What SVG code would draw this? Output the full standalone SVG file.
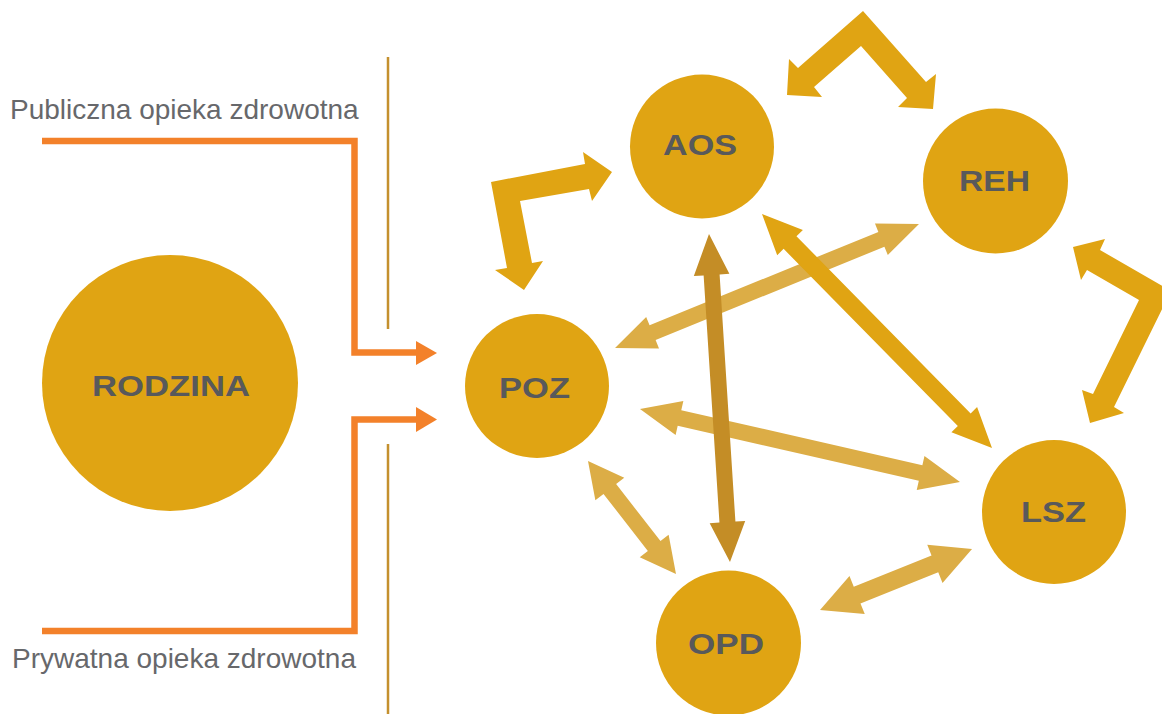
<svg xmlns="http://www.w3.org/2000/svg" width="1162" height="714" viewBox="0 0 1162 714">
<style>
.node{fill:#e0a413}
.lbl{font-family:"Liberation Sans",Arial,sans-serif;font-weight:bold;font-size:29px;fill:#58595b;text-anchor:middle}
.cap{font-family:"Liberation Sans",Arial,sans-serif;font-size:28px;fill:#67686b}
.solid{fill:#e0a413}
.light{fill:#dcad46}
.dark{fill:#c48d26}
.orange{fill:none;stroke:#f3812a;stroke-width:6.5}
.ohead{fill:#f3812a}
.divider{stroke:#c4902e;stroke-width:2.5}
</style>
<rect width="1162" height="714" fill="#ffffff"/>
<g id="dividers">
<line class="divider" x1="388" y1="57" x2="388" y2="329"/>
<line class="divider" x1="388" y1="444" x2="388" y2="714"/>
</g>
<g id="captions">
<text class="cap" x="10" y="119">Publiczna opieka zdrowotna</text>
<text class="cap" x="12" y="668">Prywatna opieka zdrowotna</text>
</g>
<g id="connectors">
<path class="orange" d="M42,141 H354.5 V352.5 H418"/>
<polygon class="ohead" points="416,341 437,353 416,365"/>
<path class="orange" d="M42,631 H354.5 V419.5 H418"/>
<polygon class="ohead" points="416,407 437,419.5 416,432"/>
<path class="light" transform="translate(615,348) rotate(-22.19)" d="M0,0 L40.6,-17 L40.6,-8 L287.7,-8 L287.7,-17 L328.3,0 L287.7,17 L287.7,8 L40.6,8 L40.6,17 Z"/>
<path class="light" transform="translate(640,409) rotate(12.85)" d="M0,0 L40.5,-17.4 L40.5,-8 L287.8,-8 L287.8,-17.4 L328.2,0 L287.8,17.4 L287.8,8 L40.5,8 L40.5,17.4 Z"/>
<path class="light" transform="translate(588,461) rotate(52.09)" d="M0,0 L35.5,-18.3 L35.5,-8 L107.7,-8 L107.7,-18.3 L143.2,0 L107.7,18.3 L107.7,8 L35.5,8 L35.5,18.3 Z"/>
<path class="light" transform="translate(820,610) rotate(-21.87)" d="M0,0 L40,-20.5 L40,-9 L123.8,-9 L123.8,-20.5 L163.8,0 L123.8,20.5 L123.8,9 L40,9 L40,20.5 Z"/>
<path class="dark" transform="translate(709,234) rotate(86.34)" d="M0,0 L41,-17.8 L41,-8 L288.7,-8 L288.7,-17.8 L328.7,0 L288.7,17.8 L288.7,8 L41,8 L41,17.8 Z"/>
<path class="solid" transform="translate(762,214) rotate(45.49)" d="M0,0 L40,-18 L40,-9 L288.5,-9 L288.5,-18 L328.1,0 L288.5,18 L288.5,9 L40,9 L40,18 Z"/>
<polygon class="solid" points="787,95 822,97 814,87 861,46 907,98 898,107 933,109 936,74 926,82 863,11 798,68 789,59"/>
<polygon class="solid" points="491,182 585,164 583,152 612,172 592,201 589,189 520,201 532,263 543,261 524,290 495,270 507,268"/>
<polygon class="solid" points="1073,247 1105,239 1100,250 1171,291 1114,407 1124,413 1090,423 1082,390 1093,394 1139,300 1087,270 1081,280"/>
</g>
<g id="node-rodzina">
<circle class="node" cx="170" cy="383" r="128"/>
<text class="lbl" x="171" y="396" textLength="158" lengthAdjust="spacingAndGlyphs">RODZINA</text>
</g>
<g id="node-aos">
<circle class="node" cx="702" cy="146.5" r="72"/>
<text class="lbl" x="700" y="155" textLength="74" lengthAdjust="spacingAndGlyphs">AOS</text>
</g>
<g id="node-reh">
<circle class="node" cx="995.5" cy="181" r="72.5"/>
<text class="lbl" x="994.5" y="191" textLength="71" lengthAdjust="spacingAndGlyphs">REH</text>
</g>
<g id="node-poz">
<circle class="node" cx="537" cy="386" r="72"/>
<text class="lbl" x="534.5" y="398" textLength="71" lengthAdjust="spacingAndGlyphs">POZ</text>
</g>
<g id="node-lsz">
<circle class="node" cx="1054" cy="512" r="72"/>
<text class="lbl" x="1053.5" y="522" textLength="65" lengthAdjust="spacingAndGlyphs">LSZ</text>
</g>
<g id="node-opd">
<circle class="node" cx="728.5" cy="643" r="72.5"/>
<text class="lbl" x="726" y="654" textLength="76" lengthAdjust="spacingAndGlyphs">OPD</text>
</g>
</svg>
